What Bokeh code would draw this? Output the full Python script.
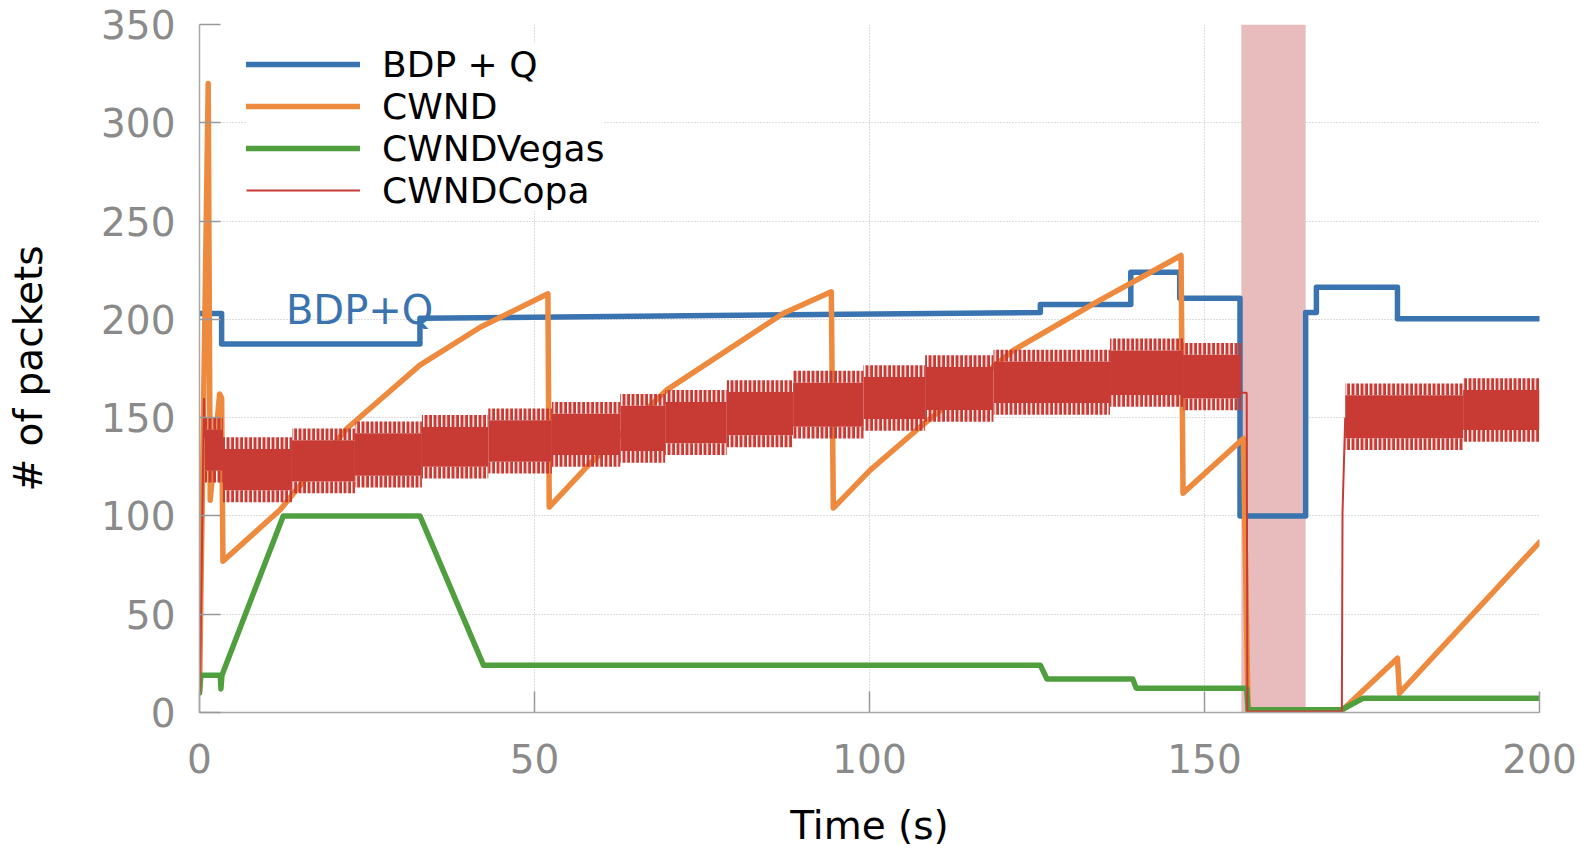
from bokeh.plotting import figure
from bokeh.models import Range1d, Legend, LegendItem
from bokeh.core.properties import value
from bokeh.embed import file_html
from bokeh.resources import INLINE

# ---------------- data ----------------
x_ticks = [0, 50, 100, 150, 200]
y_ticks = [0, 50, 100, 150, 200, 250, 300, 350]

bdp_t = [-0.4, 3.3, 3.3, 32.9, 32.9, 125.5, 125.5, 139.0, 139.0, 146.3, 146.3, 155.3, 155.3, 165.1, 165.1, 166.7, 166.7, 178.8, 178.8, 200.0]
bdp_v = [203, 203, 187.5, 187.5, 200.5, 203.5, 207.5, 207.5, 224, 224, 210.8, 210.8, 100, 100, 203.5, 203.5, 216.3, 216.3, 200.3, 200.3]

cwnd_t = [0.0, 1.3, 1.6, 3.0, 3.3, 3.5, 12.0, 22.0, 32.9, 41.9, 52.0, 52.2, 57.8, 69.7, 87.1, 94.3, 94.6,
          100.1, 107.0, 121.5, 134.4, 146.5, 146.8, 155.8, 156.5, 170.5, 178.8, 179.1, 200.0]
cwnd_v = [10, 320, 108, 162, 160, 77, 103, 144.5, 176.7, 196, 213, 104.5, 125, 164, 203, 214, 104,
          123.3, 143.6, 184.3, 209.8, 232.5, 111.6, 139.4, 1.0, 1.0, 27.6, 9.8, 86.6]

vegas_t = [0.0, 0.2, 3.1, 3.2, 3.35, 12.5, 32.9, 42.4, 125.5, 126.5, 139.3, 139.8, 156.3, 156.5, 170.5, 173.7, 200.0]
vegas_v = [10, 19, 19, 12, 19, 100, 100, 24, 24, 17, 17, 12.4, 12.4, 1.4, 1.4, 7.3, 7.3]

# CWNDCopa: fast oscillation, described by its envelope per segment
copa_start = [0.8, 3.5, 13.8, 23.2, 33.2, 43.1, 52.6, 62.8, 69.5, 78.7, 88.6, 99.1, 108.3, 118.5, 135.9, 146.8, 171.0, 188.6]
copa_end = [3.5, 13.8, 23.2, 33.2, 43.1, 52.6, 62.8, 69.5, 78.7, 88.6, 99.1, 108.3, 118.5, 135.9, 146.8, 155.5, 188.6, 200.0]
copa_lo = [117, 107, 111.5, 114.5, 119, 121.6, 125, 127, 131, 135, 139.4, 143.3, 147.9, 151.5, 155.5, 153.8, 133.5, 137.7]
copa_hi = [150, 140, 144.5, 148, 151.3, 154.7, 158, 162, 164, 169, 173.8, 176.7, 181.8, 184.5, 190.2, 188, 167.4, 170]
# CWNDCopa thin line parts (start-up and outage)
copa_line1_t = [0.07, 0.67, 0.8]
copa_line1_v = [10, 160, 140]
copa_line2_t = [155.5, 156.3, 156.4, 170.5, 170.6, 171.0]
copa_line2_v = [162.6, 162.6, 0.5, 0.5, 101.5, 150]

shade_start = [155.5]
shade_end = [165.1]

label_x = [12.9]
label_y = [205]
label_txt = ["BDP+Q"]

# ---------------- style ----------------
BLUE = "#3a74b0"
ORANGE = "#ee8a3e"
GREEN = "#4f9f3e"
RED = "#c73b34"
SHADE = "#e8bcbc"
FONT = "DejaVu Sans"
EDGE = 6  # ragged edge depth of the oscillation band (style)

p = figure(width=1579, height=850, output_backend="svg", toolbar_location=None,
           x_range=Range1d(0, 200), y_range=Range1d(0, 350),
           min_border_left=199, min_border_right=40, min_border_top=24, min_border_bottom=137)
p.outline_line_color = None
p.background_fill_color = "white"

p.quad(left=shade_start, right=shade_end, bottom=[0], top=[350],
       fill_color=SHADE, line_color=None)

r_bdp = p.line(bdp_t, bdp_v, line_color=BLUE, line_width=5.5, line_cap="round", line_join="round")
r_cwnd = p.line(cwnd_t, cwnd_v, line_color=ORANGE, line_width=5.5, line_cap="round", line_join="round")
r_vegas = p.line(vegas_t, vegas_v, line_color=GREEN, line_width=5.5, line_cap="round", line_join="round")

core_lo = [v + EDGE for v in copa_lo]
core_hi = [v - EDGE for v in copa_hi]
p.quad(left=copa_start, right=copa_end, bottom=core_lo, top=core_hi,
       fill_color=RED, line_color=None)
p.quad(left=copa_start, right=copa_end, bottom=copa_lo, top=core_lo,
       fill_alpha=0, line_color=None, hatch_pattern="vertical_line",
       hatch_color=RED, hatch_scale=4.5, hatch_weight=3.6)
p.quad(left=copa_start, right=copa_end, bottom=core_hi, top=copa_hi,
       fill_alpha=0, line_color=None, hatch_pattern="vertical_line",
       hatch_color=RED, hatch_scale=4.5, hatch_weight=3.6)
r_copa1 = p.line(copa_line1_t, copa_line1_v, line_color=RED, line_width=2)
r_copa2 = p.line(copa_line2_t, copa_line2_v, line_color=RED, line_width=2)

p.text(x=label_x, y=label_y, text=label_txt, text_color=BLUE, text_font=value(FONT),
       text_font_size="40px", text_baseline="middle", text_align="left")

# axes
for ax in (p.xaxis[0], p.yaxis[0]):
    ax.axis_line_color = "#a8a8a8"
    ax.axis_line_width = 1.5
    ax.major_tick_in = 21
    ax.major_tick_out = 0
    ax.major_tick_line_color = "#999999"
    ax.major_tick_line_width = 1.5
    ax.minor_tick_line_color = None
    ax.major_label_text_font = FONT
    ax.major_label_text_font_size = "39px"
    ax.major_label_text_color = "#8a8a8a"
    ax.axis_label_text_font = FONT
    ax.axis_label_text_font_size = "39px"
    ax.axis_label_text_font_style = "normal"
    ax.axis_label_text_color = "black"

p.xaxis.ticker = x_ticks
p.yaxis.ticker = y_ticks
p.xaxis.axis_label = "Time (s)"
p.yaxis.axis_label = "# of packets"
p.xaxis.major_label_standoff = 31
p.xaxis.axis_label_standoff = 27
p.yaxis.major_label_standoff = 24
p.yaxis.axis_label_standoff = 47

p.xgrid.grid_line_color = "#b8b8b8"
p.xgrid.grid_line_dash = "1 2"
p.ygrid.grid_line_color = "#b8b8b8"
p.ygrid.grid_line_dash = "1 2"

legend = Legend(items=[
    LegendItem(label="BDP + Q", renderers=[r_bdp]),
    LegendItem(label="CWND", renderers=[r_cwnd]),
    LegendItem(label="CWNDVegas", renderers=[r_vegas]),
    LegendItem(label="CWNDCopa", renderers=[r_copa1]),
], location=(47, 501))
legend.margin = 0
legend.padding = 20
legend.spacing = 0
legend.glyph_width = 114
legend.glyph_height = 42
legend.label_height = 42
legend.label_standoff = 22
legend.label_text_font = FONT
legend.label_text_font_size = "36px"
legend.label_text_color = "black"
legend.border_line_color = None
legend.background_fill_color = "white"
legend.background_fill_alpha = 1
p.add_layout(legend)

open("out.html", "w").write(file_html(p, INLINE))
